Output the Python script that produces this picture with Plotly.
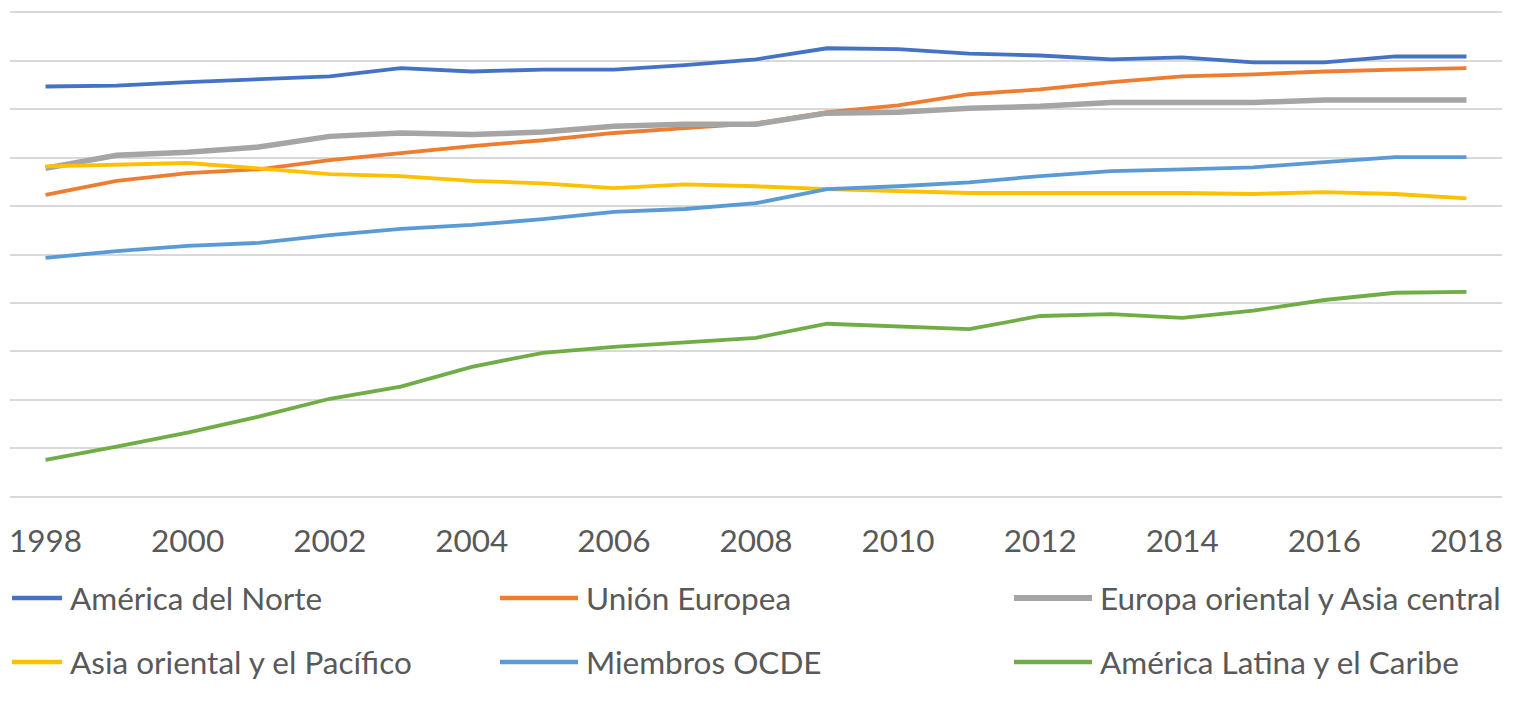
import plotly.graph_objects as go

years = list(range(1998, 2019))
tick_years = list(range(1998, 2019, 2))
tick_labels = [str(y) for y in tick_years]

series_names = [
    "América del Norte",
    "Unión Europea",
    "Europa oriental y Asia central",
    "Asia oriental y el Pacífico",
    "Miembros OCDE",
    "América Latina y el Caribe",
]

america_norte = [84.7, 84.9, 85.6, 86.2, 86.8, 88.5, 87.8, 88.2, 88.2, 89.1, 90.3,
                 92.6, 92.4, 91.5, 91.1, 90.3, 90.7, 89.7, 89.7, 90.9, 90.9]
union_europea = [62.3, 65.2, 66.8, 67.6, 69.5, 70.9, 72.4, 73.6, 75.1, 76.1, 77.1,
                 79.4, 80.8, 83.1, 84.1, 85.6, 86.8, 87.2, 87.8, 88.2, 88.5]
europa_oriental = [67.8, 70.5, 71.1, 72.2, 74.4, 75.1, 74.8, 75.3, 76.5, 76.9, 76.9,
                   79.2, 79.4, 80.2, 80.6, 81.4, 81.4, 81.4, 81.9, 81.9, 81.9]
asia_oriental = [68.2, 68.5, 68.9, 67.8, 66.6, 66.2, 65.2, 64.7, 63.7, 64.5, 64.1,
                 63.5, 63.1, 62.7, 62.7, 62.7, 62.7, 62.5, 62.9, 62.5, 61.6]
miembros_ocde = [49.3, 50.7, 51.8, 52.4, 54.0, 55.3, 56.1, 57.3, 58.8, 59.4, 60.6,
                 63.5, 64.1, 64.9, 66.2, 67.2, 67.6, 68.0, 69.1, 70.1, 70.1]
america_latina = [7.6, 10.3, 13.2, 16.5, 20.2, 22.7, 26.8, 29.7, 30.9, 31.8, 32.8,
                  35.7, 35.1, 34.6, 37.3, 37.7, 36.9, 38.4, 40.6, 42.1, 42.3]

series_values = [america_norte, union_europea, europa_oriental,
                 asia_oriental, miembros_ocde, america_latina]
colors = ["#4472C4", "#ED7D31", "#A5A5A5", "#FFC000", "#5B9BD5", "#70AD47"]
widths = [3.8, 3.8, 5.5, 3.8, 3.8, 3.8]

FONT = "Lato, 'Open Sans', sans-serif"
TEXT_COLOR = "#595959"
FS = 31.5

W, H = 1526, 702
ML, MR, MT, MB = 10, 24, 10, 203

fig = go.Figure()
for name, vals, col, w in zip(series_names, series_values, colors, widths):
    fig.add_trace(go.Scatter(
        x=years, y=vals, name=name, mode="lines",
        line=dict(color=col, width=w),
        showlegend=False,
    ))

# custom legend (3 columns x 2 rows) in paper coordinates
plot_w = W - ML - MR
plot_h = H - MT - MB
def px_to_paper_x(px):
    return (px - ML) / plot_w
def px_to_paper_y(py):
    return (H - MB - py) / plot_h

col_text_x = [70, 586, 1100]
row_y = [598, 662]
shapes = []
annotations = []
for i, (name, col, w) in enumerate(zip(series_names, colors, widths)):
    r, c = divmod(i, 3)
    tx = col_text_x[c]
    lx0 = max(12, tx - 86)
    lx1 = tx - 8
    yy = px_to_paper_y(row_y[r])
    shapes.append(dict(type="line", xref="paper", yref="paper",
                       x0=px_to_paper_x(lx0), x1=px_to_paper_x(lx1), y0=yy, y1=yy,
                       line=dict(color=col, width=w + 0.5)))
    annotations.append(dict(text=name, xref="paper", yref="paper",
                            x=px_to_paper_x(tx - 2), y=yy, xanchor="left", yanchor="middle",
                            showarrow=False, font=dict(family=FONT, size=FS, color=TEXT_COLOR)))

fig.update_layout(
    width=W, height=H,
    margin=dict(l=ML, r=MR, t=MT, b=MB),
    paper_bgcolor="white", plot_bgcolor="white",
    shapes=shapes, annotations=annotations,
    showlegend=False,
    font=dict(family=FONT, color=TEXT_COLOR),
)
fig.update_xaxes(
    range=[1997.5, 2018.5],
    tickvals=tick_years, ticktext=tick_labels,
    showgrid=False, zeroline=False, showline=False,
    ticks="", ticklabelstandoff=20,
    tickfont=dict(family=FONT, size=FS, color=TEXT_COLOR),
)
fig.update_yaxes(
    range=[-0.5, 100.5], tickvals=list(range(0, 101, 10)),
    showgrid=True, gridcolor="#D9D9D9", gridwidth=2,
    zeroline=True, zerolinecolor="#D9D9D9", zerolinewidth=2,
    showticklabels=False, showline=False, ticks="",
)

fig.write_html("out.html")
